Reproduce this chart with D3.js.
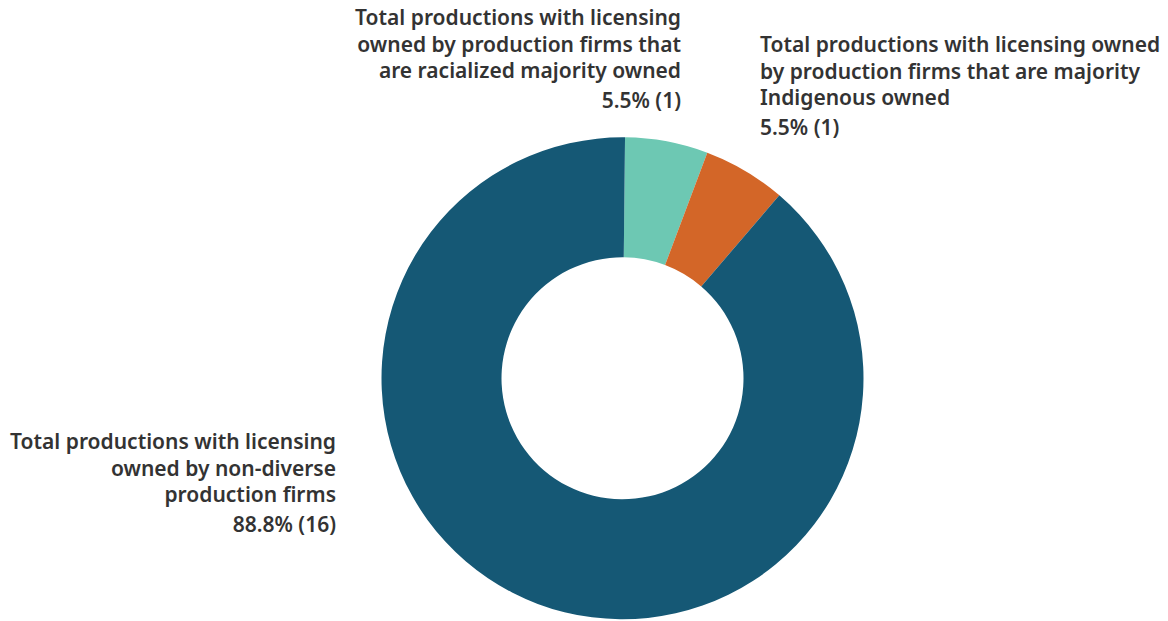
<!DOCTYPE html>
<html>
<head>
<meta charset="utf-8">
<script src="https://cdn.jsdelivr.net/npm/d3@7"></script>
<style>
  html, body { margin: 0; padding: 0; background: #fff; }
  svg { display: block; }
  text { font-family: "Noto Sans", "Open Sans", sans-serif; fill: #333333; }
</style>
</head>
<body>
<svg id="chart" width="1168" height="621"></svg>
<script>
// ---- data ----
const categories = [
  "Total productions with licensing owned by production firms that are racialized majority owned",
  "Total productions with licensing owned by production firms that are majority Indigenous owned",
  "Total productions with licensing owned by non-diverse production firms"
];
const counts = [1, 1, 16];
const percentLabels = ["5.5%", "5.5%", "88.8%"];
const labelLines = [
  ["Total productions with licensing", "owned by production firms that", "are racialized majority owned"],
  ["Total productions with licensing owned", "by production firms that are majority", "Indigenous owned"],
  ["Total productions with licensing", "owned by non-diverse", "production firms"]
];
const colors = ["#6dc8b3", "#d36628", "#155875"];

// ---- layout ----
const W = 1168, H = 621;
const cx = 622.5, cy = 378.3;
const outerR = 241, innerR = 121;
const svg = d3.select("#chart");

const start = 0.6 * Math.PI / 180;
const pie = d3.pie().sort(null).value(d => d).startAngle(start).endAngle(start + 2 * Math.PI);
const arc = d3.arc().innerRadius(innerR).outerRadius(outerR);
const color = d3.scaleOrdinal().domain(d3.range(categories.length)).range(colors);

const g = svg.append("g").attr("transform", `translate(${cx},${cy})`);
g.selectAll("path")
  .data(pie(counts))
  .join("path")
  .attr("d", arc)
  .attr("fill", (d, i) => color(i));

// label blocks: anchor x, first baseline y, text-anchor
const labelPos = [
  { x: 681, y: 25, anchor: "end" },
  { x: 760, y: 52, anchor: "start" },
  { x: 336, y: 449, anchor: "end" }
];
const fontSize = 21, lineH = 26.5, valueGap = 30;

labelLines.forEach((lines, i) => {
  const p = labelPos[i];
  const t = svg.append("text")
    .attr("text-anchor", p.anchor)
    .attr("font-size", fontSize)
    .attr("font-weight", 600);
  lines.forEach((ln, k) => {
    t.append("tspan").attr("x", p.x).attr("y", p.y + k * lineH).text(ln);
  });
  t.append("tspan")
    .attr("x", p.x)
    .attr("y", p.y + (lines.length - 1) * lineH + valueGap)
    .text(`${percentLabels[i]} (${counts[i]})`);
});
</script>
</body>
</html>
